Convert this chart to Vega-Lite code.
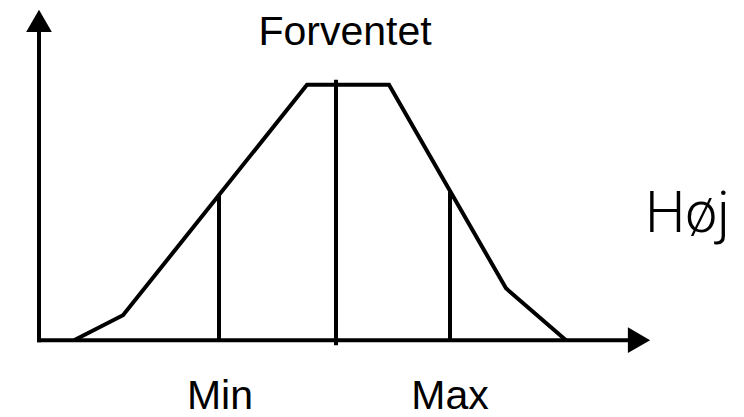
{
  "$schema": "https://vega.github.io/schema/vega-lite/v6.json",
  "width": 744,
  "height": 417,
  "autosize": {"type": "fit", "contains": "padding"},
  "padding": 0,
  "background": "white",
  "config": {"view": {"stroke": null}},
  "datasets": {
    "curve": [
      {"x": 35, "y": 0},
      {"x": 84, "y": 25},
      {"x": 268, "y": 256},
      {"x": 350, "y": 256},
      {"x": 467, "y": 52},
      {"x": 527, "y": 0}
    ],
    "rules": [
      {"name": "yaxis", "x": 0, "y": -2, "x2": 0, "y2": 320},
      {"name": "xaxis", "x": -2, "y": 0, "x2": 600, "y2": 0},
      {"name": "min", "x": 180, "y": 0, "x2": 180, "y2": 146},
      {"name": "forventet", "x": 297, "y": -5, "x2": 297, "y2": 261},
      {"name": "max", "x": 411, "y": 0, "x2": 411, "y2": 149}
    ],
    "arrows": [
      {"x": 0, "y": 320, "shape": "triangle-up"},
      {"x": 600, "y": 0, "shape": "triangle-right"}
    ],
    "labels": [
      {"label": "Forventet", "x": 306, "y": 296},
      {"label": "Min", "x": 181, "y": -69},
      {"label": "Max", "x": 411, "y": -69}
    ],
    "side": [
      {"label": "Høj", "x": 606, "y": 108}
    ]
  },
  "encoding": {
    "x": {"field": "x", "type": "quantitative", "scale": {"domain": [-39, 705], "nice": false, "zero": false}, "axis": null},
    "y": {"field": "y", "type": "quantitative", "scale": {"domain": [-76, 341], "nice": false, "zero": false}, "axis": null}
  },
  "layer": [
    {
      "data": {"name": "curve"},
      "mark": {"type": "line", "color": "black", "strokeWidth": 4, "strokeJoin": "miter", "strokeCap": "butt"}
    },
    {
      "data": {"name": "rules"},
      "mark": {"type": "rule", "color": "black", "strokeWidth": 4, "strokeCap": "butt"},
      "encoding": {
        "x2": {"field": "x2"},
        "y2": {"field": "y2"}
      }
    },
    {
      "data": {"name": "arrows"},
      "mark": {"type": "point", "filled": true, "color": "black", "opacity": 1, "size": 660, "strokeWidth": 0},
      "encoding": {
        "shape": {"field": "shape", "type": "nominal", "scale": null, "legend": null}
      }
    },
    {
      "data": {"name": "labels"},
      "mark": {"type": "text", "font": "Liberation Sans", "fontSize": 41, "align": "center", "baseline": "alphabetic", "color": "black"},
      "encoding": {"text": {"field": "label"}}
    },
    {
      "data": {"name": "side"},
      "mark": {"type": "text", "font": "Roboto Light, Open Sans Light, Roboto", "fontWeight": 300, "fontSize": 57, "align": "left", "baseline": "alphabetic", "color": "black"},
      "encoding": {"text": {"field": "label"}}
    }
  ]
}
